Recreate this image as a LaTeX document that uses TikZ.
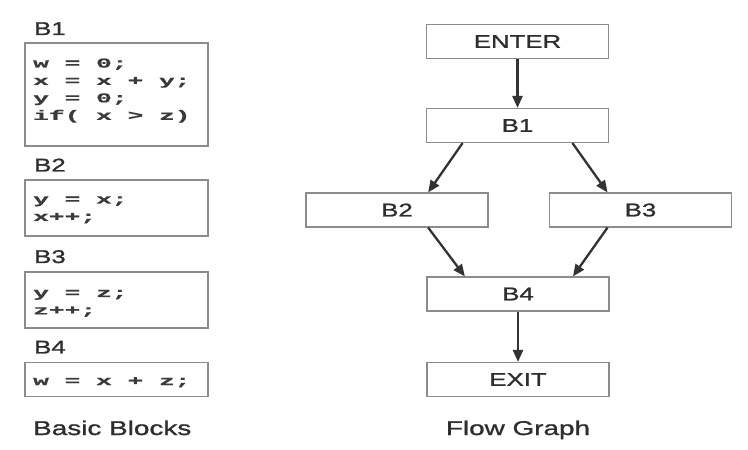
\documentclass[tikz,border=0pt]{standalone}
\usepackage{fontspec}
\setmainfont{Liberation Sans}[FakeStretch=1.4, FakeBold=1.2]
\newfontfamily\codefont{Liberation Mono}[FakeStretch=1.95, BoldFeatures={FakeStretch=1.95, FakeBold=0.8}]
\usetikzlibrary{arrows.meta,calc}
\definecolor{boxgray}{HTML}{8C8C8C}
\definecolor{textgray}{HTML}{2E2E2E}
\definecolor{codegray}{HTML}{3A3A3A}
\definecolor{arrowgray}{HTML}{333333}
\begin{document}
\begin{tikzpicture}[x=1bp,y=-1bp,
  box/.style={draw=boxgray, line width=1.1bp, minimum width=182bp, minimum height=34bp, inner sep=0pt, font=\fontsize{18.5}{20}\selectfont, text=textgray},
  codebox/.style={draw=boxgray, line width=1.1bp, inner sep=0pt, minimum width=183bp},
  code/.style={anchor=base west, inner sep=0pt, font=\codefont\bfseries\fontsize{13.5}{17.5}\selectfont, text=codegray},
  lab/.style={anchor=base west, inner sep=0pt, font=\fontsize{18.5}{20}\selectfont, text=textgray},
  capt/.style={inner sep=0pt, font=\fontsize{20}{22}\selectfont, text=textgray},
  arr/.style={draw=arrowgray, line width=2.3bp, -{Triangle[length=12bp,width=10bp]}}]
\fill[white] (0,0) rectangle (748,450);
\useasboundingbox (0,0) rectangle (748,450);

% ---- Basic blocks (left) ----
\node[lab] (lb1) at (34,35) {B1};
\node[codebox, minimum height=103bp] (cb1) at (116.5,94.5) {};
\node[code] (c1) at (33,67.5) {\begin{tabular}[t]{@{}l@{}}w = 0;\\x = x + y;\\y = 0;\\if( x > z)\end{tabular}};

\node[lab] (lb2) at (34,171.5) {B2};
\node[codebox, minimum height=56bp] (cb2) at (116.5,208) {};
\node[code] (c2) at (33,203.5) {\begin{tabular}[t]{@{}l@{}}y = x;\\x++;\end{tabular}};

\node[lab] (lb3) at (34,263) {B3};
\node[codebox, minimum height=56bp] (cb3) at (116.5,300) {};
\node[code] (c3) at (33,297) {\begin{tabular}[t]{@{}l@{}}y = z;\\z++;\end{tabular}};

\node[lab] (lb4) at (34,353.5) {B4};
\node[codebox, minimum height=34bp] (cb4) at (116.5,379.5) {};
\node[code] (c4) at (33,385) {w = x + z;};

\node[capt, anchor=base west] (bb) at (33,435) {Basic Blocks};

% ---- Flow graph (right) ----
\node[box] (enter) at (517.5,41.5) {ENTER};
\node[box] (b1) at (517.5,125.5) {B1};
\node[box] (b2) at (397,210) {B2};
\node[box] (b3) at (640.5,210) {B3};
\node[box] (b4) at (518,294) {B4};
\node[box] (exit) at (518,379.5) {EXIT};
\node[capt, anchor=base] (fg) at (518,435) {Flow Graph};

\draw[arr] (enter.south) -- (b1.north);
\draw[arr] ($(b1.south west)!0.2!(b1.south east)$) -- ($(b2.north west)!0.67!(b2.north east)$);
\draw[arr] ($(b1.south west)!0.8!(b1.south east)$) -- ($(b3.north west)!0.32!(b3.north east)$);
\draw[arr] ($(b2.south west)!0.67!(b2.south east)$) -- ($(b4.north west)!0.21!(b4.north east)$);
\draw[arr] ($(b3.south west)!0.32!(b3.south east)$) -- ($(b4.north west)!0.8!(b4.north east)$);
\draw[arr] (b4.south) -- (exit.north);
\end{tikzpicture}
\end{document}
